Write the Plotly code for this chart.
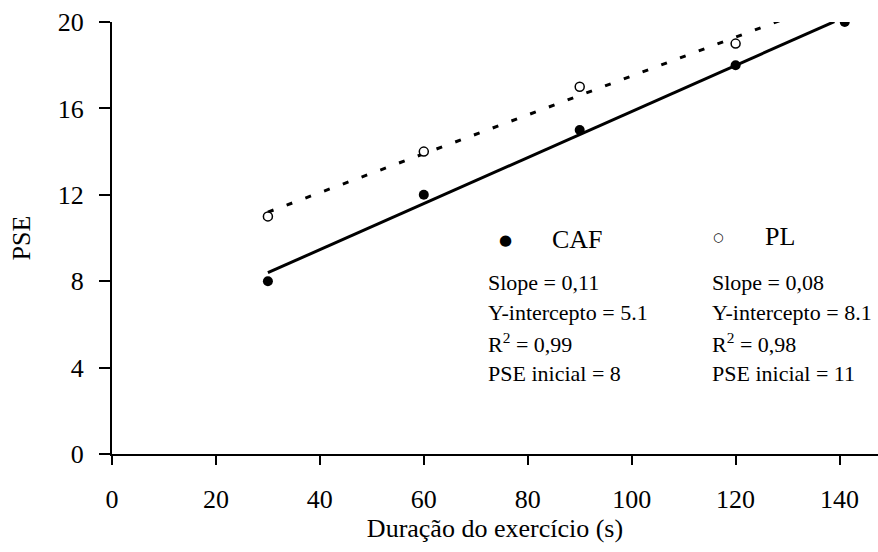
import numpy as np
import plotly.graph_objects as go

# Data
caf_x = [30, 60, 90, 120, 141]
caf_y = [8, 12, 15, 18, 20]
pl_x = [30, 60, 90, 120]
pl_y = [11, 14, 17, 19]
caf_fit_range = [30, 139]
pl_fit_range = [30, 130]
x_ticks = [0, 20, 40, 60, 80, 100, 120, 140]
y_ticks = [0, 4, 8, 12, 16, 20]
caf_stats = ["Slope = 0,11", "Y-intercepto = 5.1", "R<sup>2</sup> = 0,99", "PSE inicial = 8"]
pl_stats = ["Slope = 0,08", "Y-intercepto = 8.1", "R<sup>2</sup> = 0,98", "PSE inicial = 11"]

FONT = "Liberation Serif"

caf_coef = np.polyfit(caf_x, caf_y, 1)
pl_coef = np.polyfit(pl_x, pl_y, 1)
caf_fx = np.array(caf_fit_range, dtype=float)
pl_fx = np.array(pl_fit_range, dtype=float)

fig = go.Figure()
fig.add_trace(go.Scatter(x=pl_fx, y=np.polyval(pl_coef, pl_fx), mode="lines",
                         line=dict(color="black", width=3, dash="6px,14px"),
                         showlegend=False, hoverinfo="skip"))
fig.add_trace(go.Scatter(x=caf_fx, y=np.polyval(caf_coef, caf_fx), mode="lines",
                         line=dict(color="black", width=3),
                         showlegend=False, hoverinfo="skip"))
fig.add_trace(go.Scatter(x=pl_x, y=pl_y, mode="markers", name="PL",
                         marker=dict(symbol="circle", size=9, color="white",
                                     line=dict(color="black", width=1.5)),
                         showlegend=False))
fig.add_trace(go.Scatter(x=caf_x, y=caf_y, mode="markers", name="CAF",
                         marker=dict(symbol="circle", size=10, color="black"),
                         showlegend=False))

ann = []
# legend-like labels
ann.append(dict(x=75.8, y=9.93, text="●", font=dict(size=15, color="black", family="DejaVu Sans"),
                showarrow=False, xanchor="center", yanchor="middle"))
ann.append(dict(x=84.3, y=9.93, text="CAF", font=dict(size=26, color="black", family=FONT),
                showarrow=False, xanchor="left", yanchor="middle"))
ann.append(dict(x=116.6, y=10.05, text="○", font=dict(size=12, color="black", family="DejaVu Sans"),
                showarrow=False, xanchor="center", yanchor="middle"))
ann.append(dict(x=125.3, y=10.05, text="PL", font=dict(size=26, color="black", family=FONT),
                showarrow=False, xanchor="left", yanchor="middle"))
ys = [7.96, 6.57, 5.14, 3.75]
for t, yv in zip(caf_stats, ys):
    ann.append(dict(x=72.0, y=yv, text=t, font=dict(size=22, color="black", family=FONT),
                    showarrow=False, xanchor="left", yanchor="middle"))
for t, yv in zip(pl_stats, ys):
    ann.append(dict(x=115.1, y=yv, text=t, font=dict(size=22, color="black", family=FONT),
                    showarrow=False, xanchor="left", yanchor="middle"))

fig.update_layout(
    width=878, height=552,
    margin=dict(l=112, r=0, t=22, b=98),
    paper_bgcolor="white", plot_bgcolor="white",
    font=dict(family=FONT, size=26, color="black"),
    annotations=ann,
    xaxis=dict(range=[0, 147.4], tickvals=x_ticks, ticks="outside", ticklen=9, tickwidth=2,
               tickcolor="black", showline=True, linecolor="black", linewidth=2,
               showgrid=False, zeroline=False, ticklabelstandoff=12,
               title=dict(text="Duração do exercício (s)", font=dict(size=26, family=FONT), standoff=4),
               tickfont=dict(size=26, family=FONT)),
    yaxis=dict(range=[0, 20], tickvals=y_ticks, ticks="outside", ticklen=11, tickwidth=2,
               tickcolor="black", showline=True, linecolor="black", linewidth=2,
               showgrid=False, zeroline=False, ticklabelstandoff=10,
               title=dict(text="PSE", font=dict(size=26, family=FONT), standoff=20),
               tickfont=dict(size=26, family=FONT)),
)
fig.write_html("out.html")
